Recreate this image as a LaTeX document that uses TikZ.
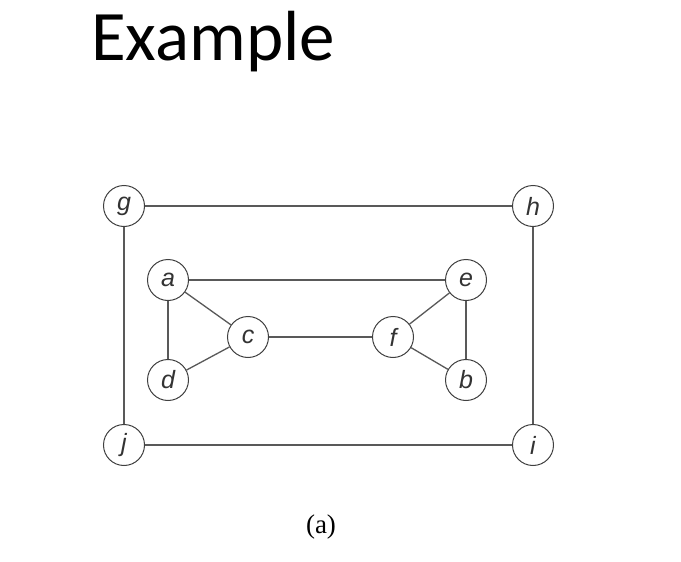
\documentclass[tikz,border=0pt]{standalone}
\usepackage{fontspec}
\setmainfont{Liberation Serif}
\newfontfamily\titlefont{Carlito}
\newfontfamily\labfont{Liberation Sans}
\begin{document}
\begin{tikzpicture}[x=1pt,y=-1pt,
  vtx/.style={circle,draw=black!75,line width=1pt,minimum size=41pt,inner sep=0pt,fill=white,
    font=\labfont\itshape\fontsize{25}{25}\selectfont, text=black!80},
  edge/.style={draw=black!65,line width=1.3pt}]
\useasboundingbox[fill=white] (0,0) rectangle (681,562);
\node[anchor=base west,inner sep=0pt,font=\titlefont\fontsize{71}{71}\selectfont] (title) at (91,60) {Example};
\node[vtx] (g) at (124,206) {g};
\node[vtx] (h) at (533,206) {h};
\node[vtx] (j) at (124,445) {j};
\node[vtx] (i) at (533,445) {i};
\node[vtx] (a) at (168,280) {a};
\node[vtx] (e) at (466,280) {e};
\node[vtx] (c) at (248,337) {c};
\node[vtx] (f) at (393,337) {f};
\node[vtx] (d) at (168,380) {d};
\node[vtx] (b) at (466,380) {b};
\node[inner sep=0pt,font=\fontsize{27}{27}\selectfont] (cap) at (321,527) {(a)};
\draw[edge] (g) -- (h);
\draw[edge] (h) -- (i);
\draw[edge] (i) -- (j);
\draw[edge] (j) -- (g);
\draw[edge] (a) -- (e);
\draw[edge] (a) -- (d);
\draw[edge] (a) -- (c);
\draw[edge] (d) -- (c);
\draw[edge] (c) -- (f);
\draw[edge] (f) -- (e);
\draw[edge] (f) -- (b);
\draw[edge] (e) -- (b);
\end{tikzpicture}
\end{document}
